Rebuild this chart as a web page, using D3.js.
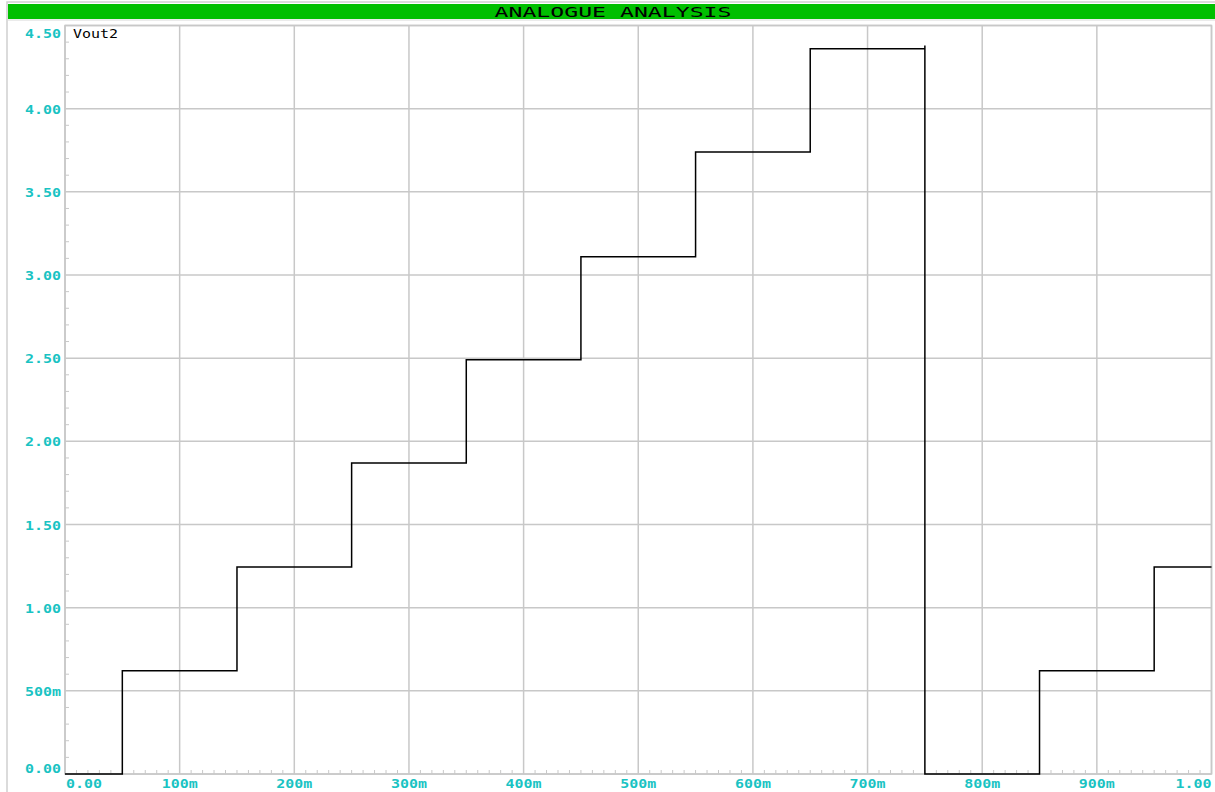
<!DOCTYPE html>
<html><head><meta charset="utf-8">
<script src="https://cdn.jsdelivr.net/npm/d3@7"></script>
<style>html,body{margin:0;padding:0;background:#fff;overflow:hidden}</style>
</head><body>
<svg id="c" width="1215" height="792"></svg>
<script>
const title = "ANALOGUE ANALYSIS";
const traceName = "Vout2";
// step trace: time (s), voltage (V)
const times = [0, 0.05, 0.05, 0.15, 0.15, 0.25, 0.25, 0.35, 0.35, 0.45, 0.45, 0.55, 0.55, 0.65, 0.65, 0.75, 0.75, 0.75, 0.85, 0.85, 0.95, 0.95, 1.0];
const volts = [0, 0, 0.62, 0.62, 1.245, 1.245, 1.87, 1.87, 2.49, 2.49, 3.11, 3.11, 3.74, 3.74, 4.36, 4.36, 4.38, 0, 0, 0.62, 0.62, 1.245, 1.245];
const xTicks = [0, 0.1, 0.2, 0.3, 0.4, 0.5, 0.6, 0.7, 0.8, 0.9, 1.0];
const xTickLabels = ["0.00", "100m", "200m", "300m", "400m", "500m", "600m", "700m", "800m", "900m", "1.00"];
const yTicks = [0, 0.5, 1, 1.5, 2, 2.5, 3, 3.5, 4, 4.5];
const yTickLabels = ["0.00", "500m", "1.00", "1.50", "2.00", "2.50", "3.00", "3.50", "4.00", "4.50"];

const svg = d3.select("#c");
const L = 65, R = 1211.5, T = 25.5, B = 774;
const x = d3.scaleLinear().domain([0, 1]).range([L, R]);
const y = d3.scaleLinear().domain([0, 4.5]).range([B, T]);
const grid = "#c8c8c8", cyan = "#19c3c3";

// outer frame + title bar
svg.append("rect").attr("x", 7).attr("y", 2).attr("width", 1215).attr("height", 800)
  .attr("fill", "none").attr("stroke", "#d0d0d0").attr("stroke-width", 1.5);
svg.append("rect").attr("x", 8).attr("y", 4).attr("width", 1207).attr("height", 15).attr("fill", "#00bf00");
svg.append("line").attr("x1", 8).attr("x2", 1215).attr("y1", 20).attr("y2", 20).attr("stroke", "#d8d8d8").attr("stroke-width", 1);
svg.append("text").attr("x", 613).attr("y", 17).attr("text-anchor", "middle")
  .attr("font-family", "DejaVu Sans Mono").attr("font-size", 14).attr("fill", "#000")
  .attr("textLength", 237).attr("lengthAdjust", "spacingAndGlyphs").text(title);

// gridlines
svg.append("g").selectAll("line").data(xTicks).join("line")
  .attr("x1", d => x(d)).attr("x2", d => x(d)).attr("y1", T).attr("y2", B)
  .attr("stroke", grid).attr("stroke-width", 1.5);
svg.append("g").selectAll("line").data(yTicks).join("line")
  .attr("x1", L).attr("x2", R).attr("y1", d => y(d)).attr("y2", d => y(d))
  .attr("stroke", grid).attr("stroke-width", 1.5);

// minor ticks
const yMinor = d3.range(0, 45).map(i => i * 0.1).filter(v => Math.round(v * 10) % 5 !== 0);
svg.append("g").selectAll("line").data(yMinor).join("line")
  .attr("x1", L).attr("x2", L + 4).attr("y1", d => y(d)).attr("y2", d => y(d))
  .attr("stroke", grid).attr("stroke-width", 1);
const xMinor = d3.range(0, 100).map(i => i * 0.01).filter(v => Math.round(v * 100) % 10 !== 0);
svg.append("g").selectAll("line").data(xMinor).join("line")
  .attr("x1", d => x(d)).attr("x2", d => x(d)).attr("y1", B).attr("y2", B - 4)
  .attr("stroke", grid).attr("stroke-width", 1);

// frame
svg.append("rect").attr("x", L).attr("y", T).attr("width", R - L).attr("height", B - T)
  .attr("fill", "none").attr("stroke", grid).attr("stroke-width", 1.5);

// y labels
svg.append("g").selectAll("text").data(yTicks).join("text")
  .attr("x", 61).attr("y", (d, i) => i === yTicks.length - 1 ? y(d) + 12.5 : (i === 0 ? y(d) - 1 : y(d) + 5))
  .attr("text-anchor", "end").attr("font-family", "DejaVu Sans Mono").attr("font-size", 13)
  .attr("font-weight", "bold").attr("fill", cyan)
  .attr("textLength", 36).attr("lengthAdjust", "spacingAndGlyphs")
  .text((d, i) => yTickLabels[i]);

// x labels
svg.append("g").selectAll("text").data(xTicks).join("text")
  .attr("x", (d, i) => i === 0 ? x(d) + 1 : (i === xTicks.length - 1 ? x(d) : x(d)))
  .attr("y", 788)
  .attr("text-anchor", (d, i) => i === 0 ? "start" : (i === xTicks.length - 1 ? "end" : "middle"))
  .attr("font-family", "DejaVu Sans Mono").attr("font-size", 13).attr("font-weight", "bold").attr("fill", cyan)
  .attr("textLength", 36).attr("lengthAdjust", "spacingAndGlyphs")
  .text((d, i) => xTickLabels[i]);

// trace
const pts = times.map((t, i) => [t, volts[i]]);
svg.append("path").datum(pts)
  .attr("d", d3.line().x(d => x(d[0])).y(d => y(d[1])))
  .attr("fill", "none").attr("stroke", "#000").attr("stroke-width", 1.5);

// trace label
svg.append("text").attr("x", 73).attr("y", 38).attr("font-family", "DejaVu Sans Mono").attr("font-size", 13)
  .attr("fill", "#000").attr("textLength", 45).attr("lengthAdjust", "spacingAndGlyphs").text(traceName);
</script>
</body></html>
